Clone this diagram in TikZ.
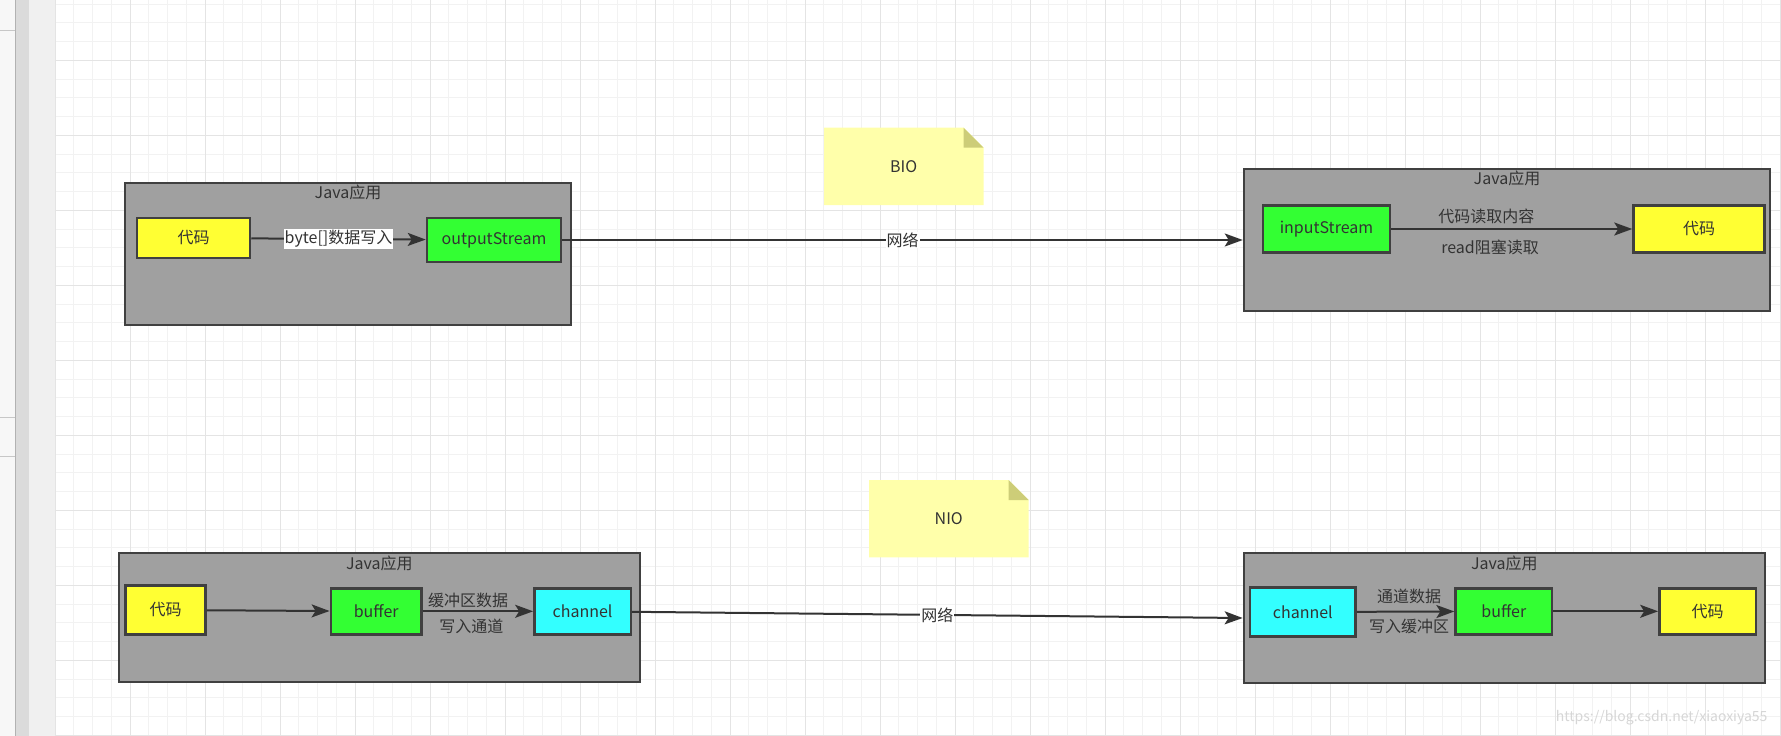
\documentclass[tikz,border=0pt]{standalone}
\usepackage{fontspec}
\setmainfont{Noto Sans CJK SC}
\usepackage{tikz}
\usetikzlibrary{arrows.meta,positioning}
\usepackage{xcolor}
\definecolor{appgray}{RGB}{160,160,160}
\definecolor{edgegray}{RGB}{64,64,64}
\definecolor{inkgray}{RGB}{51,51,51}
\definecolor{codeyellow}{RGB}{255,255,51}
\definecolor{streamgreen}{RGB}{51,255,51}
\definecolor{chancyan}{RGB}{51,255,255}
\definecolor{notefill}{RGB}{255,255,170}
\definecolor{notefold}{RGB}{205,205,120}
\definecolor{minorgrid}{RGB}{242,242,242}
\definecolor{majorgrid}{RGB}{228,228,228}
\newcommand{\labelfont}{\fontsize{16pt}{19pt}\selectfont}

\tikzset{
  app/.style={draw=edgegray, fill=appgray, line width=2pt, inner sep=0pt},
  apptitle/.style={font=\labelfont, text=inkgray, inner sep=0pt},
  block/.style={draw=edgegray, line width=2.5pt, font=\labelfont, text=inkgray, inner sep=0pt},
  codebox/.style={block, fill=codeyellow},
  streambox/.style={block, fill=streamgreen},
  chanbox/.style={block, fill=chancyan},
  flow/.style={draw=inkgray, line width=2pt, -{Stealth[length=18pt,width=13pt,inset=4pt]}},
  tag/.style={font=\labelfont, text=inkgray, inner sep=1pt},
  notelabel/.style={font=\fontsize{16pt}{19pt}\selectfont, text=inkgray, inner sep=0pt},
}

\begin{document}
\begin{tikzpicture}[x=1pt,y=-1pt]
    \useasboundingbox (0,0) rectangle (1781,736);
    \fill[white] (0,0) rectangle (1781,736);

    % editor side bar
    \fill[black!3] (0,0) rectangle (15.3,736);
    \fill[black!14] (15.3,0) rectangle (28.7,736);
    \draw[black!30] (15.3,0) -- (15.3,736);
    \fill[black!6] (28.7,0) rectangle (54.7,736);
    \foreach \sy in {30,416.7,456} \draw[black!22] (0,\sy) -- (15.3,\sy);

    % canvas grid
    \foreach \i in {0,...,92} \draw[minorgrid] ({54.7+18.75*\i},0) -- ++(0,736);
    \foreach \j in {0,...,39} \draw[minorgrid] (54.7,{3.75+18.75*\j}) -- (1781,{3.75+18.75*\j});
    \foreach \i in {0,...,23} \draw[majorgrid] ({54.7+75*\i},0) -- ++(0,736);
    \foreach \j in {0,...,9} \draw[majorgrid] (54.7,{60+75*\j}) -- (1781,{60+75*\j});

    % notes
    \foreach \nx/\ny/\nt/\nn in {824/127.7/BIO/bioNote, 869/480/NIO/nioNote}{
        \fill[notefill] (\nx,\ny) -- ++(139.5,0) -- ++(20,20) -- ++(0,57.3) -- ++(-159.5,0) -- cycle;
        \fill[notefold] (\nx+139.5,\ny) -- ++(0,20) -- ++(20,0) -- cycle;
        \node[notelabel] (\nn) at (\nx+79.75,\ny+38.7) {\nt};
    }

    % BIO
    \node[app, minimum width=446pt, minimum height=142pt] (bioA) at (348,254) {};
    \node[apptitle, below=3pt of bioA.north] (bioAtitle) {Java应用};
    \node[codebox, minimum width=113pt, minimum height=40pt] (bioCodeA) at (193.5,238) {代码};
    \node[streambox, minimum width=134pt, minimum height=44pt] (outStream) at (494,240) {outputStream};

    \node[app, minimum width=526.5pt, minimum height=142pt] (bioB) at (1507,240) {};
    \node[apptitle, below=3pt of bioB.north] (bioBtitle) {Java应用};
    \node[streambox, minimum width=127pt, minimum height=46.6pt] (inStream) at (1326.5,229) {inputStream};
    \node[codebox, minimum width=131pt, minimum height=46.6pt] (bioCodeB) at (1699,229) {代码};

    \draw[flow] (bioCodeA) -- node[tag, fill=white] {byte[]数据写入} (outStream);
    \draw[flow] (outStream) -- node[tag, fill=white] {网络} (bioB.west);
    \draw[flow] (inStream) -- node[tag, above=3.5pt, pos=0.395] {代码读取内容}
        node[tag, below=8.5pt, pos=0.41] {read阻塞读取} (bioCodeB);

    % NIO
    \node[app, minimum width=520.6pt, minimum height=129pt] (nioA) at (379.3,617.8) {};
    \node[apptitle, below=3pt of nioA.north] (nioAtitle) {Java应用};
    \node[codebox, minimum width=80pt, minimum height=48.6pt] (nioCodeA) at (165.6,610) {代码};
    \node[streambox, minimum width=90.7pt, minimum height=46pt] (nioBufA) at (376.2,611.3) {buffer};
    \node[chanbox, minimum width=96.4pt, minimum height=46pt] (nioChanA) at (582.6,611.3) {channel};

    \node[app, minimum width=521.3pt, minimum height=129.4pt] (nioB) at (1504.3,618) {};
    \node[apptitle, below=3pt of nioB.north] (nioBtitle) {Java应用};
    \node[chanbox, minimum width=105.6pt, minimum height=49.4pt] (nioChanB) at (1302.8,612) {channel};
    \node[streambox, minimum width=96.4pt, minimum height=46pt] (nioBufB) at (1503.8,611.3) {buffer};
    \node[codebox, minimum width=96.4pt, minimum height=46pt] (nioCodeB) at (1707.6,611.3) {代码};

    \draw[flow] (nioCodeA) -- (nioBufA);
    \draw[flow] (nioBufA) -- node[tag, above=1pt, pos=0.41] {缓冲区数据}
        node[tag, below=6pt, pos=0.44] {写入通道} (nioChanA);
    \draw[flow] (nioChanA) -- node[tag, fill=white] {网络} (nioB.west);
    \draw[flow] (nioChanB) -- node[tag, above=5.5pt, pos=0.535] {通道数据}
        node[tag, below=5.5pt, pos=0.535] {写入缓冲区} (nioBufB);
    \draw[flow] (nioBufB) -- (nioCodeB);

    \node[anchor=east, font=\fontsize{14pt}{16pt}\selectfont, text=black!16] (mark) at (1771,718) {https://blog.csdn.net/xiaoxiya55};
\end{tikzpicture}
\end{document}
